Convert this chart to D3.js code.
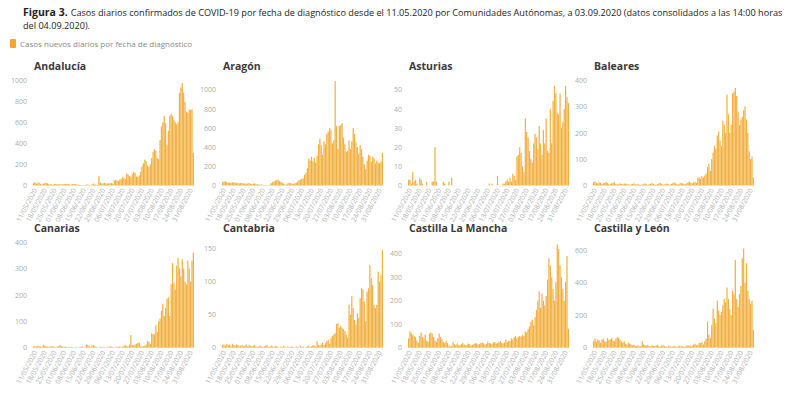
<!DOCTYPE html>
<html>
<head>
<meta charset="utf-8">
<script src="https://cdn.jsdelivr.net/npm/d3@7"></script>
<style>
body { margin: 0; background: #fff; }
svg { display: block; font-family: "Open Sans", "Noto Sans", sans-serif; }
</style>
</head>
<body>
<script>
// Casos diarios por CCAA, 11/05/2020 - 03/09/2020 (116 dias)
var regions = ['Andalucía', 'Aragón', 'Asturias', 'Baleares', 'Canarias', 'Cantabria', 'Castilla La Mancha', 'Castilla y León']

var andalucia = [25,30,20,22,28,15,10,18,22,26,20,16,12,10,9,14,16,12,11,15,9,
  12,14,15,16,13,10,9,13,15,14,11,8,5,6,4,3,5,8,10,4,2,12,20,10,8,6,92,30,18,22,
  25,20,18,22,20,24,18,48,52,46,40,55,60,82,70,62,112,105,90,80,108,128,120,85,80,95,130,180,210,245,230,
  190,175,200,260,320,345,330,260,250,430,560,600,660,590,380,520,660,680,660,620,600,580,600,880,930,970,880,790,700,690,720,
  715,725,310]
var aragon = [35,45,40,38,32,30,28,35,30,30,28,25,22,26,24,20,22,18,20,25,18,
  15,18,22,15,12,10,8,12,6,5,4,3,2,10,25,35,42,50,55,60,45,38,30,20,12,10,22,28,25,20,
  15,25,30,40,55,60,70,75,110,130,180,280,260,300,250,290,240,310,430,490,420,320,460,430,540,560,600,580,440,470,1090,
  620,380,620,630,650,500,430,350,360,470,380,460,600,540,450,400,330,420,380,300,220,170,260,320,310,250,300,280,230,260,240,
  230,250,340]
var asturias = [3,3,1,7,2,3,1,0,4,3,1,0,0,2,0,0,0,2,2,20,2,
  0,0,0,0,2,1,0,0,2,0,4,0,0,0,0,0,0,0,0,0,0,0,0,0,0,0,0,0,0,0,
  0,0,0,0,0,0,0,1,0,1,0,0,0,5,0,0,0,1,1,2,3,2,4,2,6,5,3,15,16,20,17,
  10,7,35,28,25,18,14,12,22,27,25,19,31,22,16,29,22,35,18,17,40,22,44,52,48,38,37,48,30,33,40,
  52,46,43]
var baleares = [12,15,10,8,12,10,6,8,10,14,9,7,5,8,10,12,6,5,4,8,6,
  5,7,8,6,4,3,5,6,8,5,4,6,3,2,4,6,8,5,3,5,7,9,6,4,3,5,8,10,6,4,
  4,6,8,5,3,6,9,12,8,5,4,7,10,8,6,5,9,12,15,10,8,12,14,10,28,32,25,35,30,38,45,
  70,82,55,100,125,150,140,190,205,170,150,245,230,200,345,270,200,230,350,355,370,340,280,230,250,260,285,300,250,200,130,
  100,110,30]
var canarias = [5,6,4,8,6,5,3,10,8,6,4,3,5,4,6,3,2,4,5,10,6,
  4,3,5,2,3,2,4,2,1,3,2,1,2,3,5,1,2,12,10,6,2,8,10,5,3,2,1,4,2,3,
  2,1,3,2,6,4,3,1,2,4,3,5,2,4,8,10,6,4,12,48,10,8,12,15,18,20,5,4,6,8,12,
  25,22,15,55,52,50,85,60,100,110,140,165,120,150,185,190,120,240,320,245,220,310,340,300,270,335,300,250,240,330,300,
  250,330,360]
var cantabria = [4,5,3,6,4,5,2,6,4,3,5,4,2,3,4,2,3,5,2,4,3,
  2,3,4,2,1,2,3,2,1,2,3,4,1,2,3,2,1,3,2,1,0,2,1,3,1,0,2,1,1,2,
  1,0,2,1,0,3,1,2,0,1,2,3,1,2,4,3,2,10,4,3,5,8,4,7,10,12,6,14,18,20,22,
  36,37,30,33,30,28,25,20,15,65,50,78,60,42,35,52,45,75,90,88,70,40,85,90,125,105,95,65,60,65,115,
  100,110,148]
var castillaLaMancha = [40,70,62,55,50,45,30,20,50,65,45,40,55,30,25,60,65,60,45,30,25,
  40,60,45,35,25,20,30,20,10,5,8,25,15,12,18,10,12,15,20,14,10,12,18,15,10,12,16,20,18,14,
  15,20,22,18,12,16,25,20,18,15,22,24,18,20,25,28,20,18,22,35,25,30,28,40,35,45,50,40,45,50,48,
  55,50,70,65,80,90,110,120,95,130,160,200,240,170,230,200,180,220,290,380,350,300,250,200,280,440,420,350,300,250,200,
  280,390,80]
var castillaYLeon = [40,55,35,50,45,30,50,55,40,35,60,48,50,60,45,40,55,65,60,50,40,
  30,40,25,20,30,25,20,15,18,12,10,15,8,10,40,20,15,12,18,10,8,15,12,10,14,18,10,8,12,15,
  10,8,6,12,9,5,8,10,7,6,9,12,8,10,6,8,12,15,10,14,12,20,25,15,18,30,28,35,20,40,55,
  160,80,60,140,240,180,150,290,230,200,220,260,300,280,370,300,240,200,350,330,540,300,250,330,380,550,610,400,520,350,300,
  270,290,110]

var series = [andalucia, aragon, asturias, baleares, canarias, cantabria, castillaLaMancha, castillaYLeon]
// y axis maximum and tick step of each panel
var yMax = [1000, 1100, 55, 400, 400, 160, 450, 650]
var yStep = [200, 200, 10, 100, 100, 50, 100, 200]

var tickLabels = ['11/05/2020','18/05/2020','25/05/2020','01/06/2020','08/06/2020','15/06/2020','22/06/2020','29/06/2020',
  '06/07/2020','13/07/2020','20/07/2020','27/07/2020','03/08/2020','10/08/2020','17/08/2020','24/08/2020','31/08/2020']

var days = d3.timeDay.range(new Date(2020, 4, 11), new Date(2020, 8, 4))
var fmt = d3.timeFormat('%d/%m/%Y')

var w = 800, h = 399
var barColor = '#F2B040'
var colX = [33, 222, 408, 593]
var rowTop = [80, 242]
var rowBottom = [185.5, 347.7]
var pw = 161

var svg = d3.select('body').append('svg').attr('width', w).attr('height', h)

// Titulo (font size fitted so the first line ends near x=783)
var bold = svg.append('text').attr('x', 23).attr('y', 16).attr('font-size', 10.5).attr('fill', '#222')
  .attr('font-weight', 'bold').text('Figura 3.')
var bw = bold.node().getComputedTextLength()
var t1 = svg.append('text').attr('x', 23 + bw + 3).attr('y', 16).attr('font-size', 10).attr('fill', '#222')
  .text('Casos diarios confirmados de COVID-19 por fecha de diagnóstico desde el 11.05.2020 por Comunidades Autónomas, a 03.09.2020 (datos consolidados a las 14:00 horas')
var natural = t1.node().getComputedTextLength()
t1.attr('font-size', 10 * (783 - (23 + bw + 3)) / natural)
svg.append('text').attr('x', 23).attr('y', 29).attr('font-size', t1.attr('font-size')).attr('fill', '#222')
  .text('del 04.09.2020).')

// Leyenda
svg.append('rect').attr('x', 10).attr('y', 39).attr('width', 6).attr('height', 9).attr('rx', 1).attr('fill', '#F0A830')
svg.append('text').attr('x', 20).attr('y', 47).attr('font-size', 8).attr('fill', '#888')
  .text('Casos nuevos diarios por fecha de diagnóstico')

var x = d3.scaleBand().domain(days.map(fmt)).range([0, pw]).paddingInner(0.12)

regions.forEach(function (name, i) {
  var col = i % 4, row = Math.floor(i / 4)
  var y = d3.scaleLinear().domain([0, yMax[i]]).range([rowBottom[row], rowTop[row]])
  var g = svg.append('g').attr('transform', 'translate(' + colX[col] + ',0)')

  g.append('text').attr('x', 1).attr('y', rowTop[row] - 10)
    .attr('font-size', 10.5).attr('font-weight', 'bold').attr('fill', '#3a3a3a')
    .text(name)

  var yAxis = g.append('g').attr('transform', 'translate(-4,0)')
    .call(d3.axisLeft(y).tickValues(d3.range(0, yMax[i] + 0.001, yStep[i]))
      .tickFormat(d3.format('d')).tickSize(0).tickPadding(2))
  yAxis.select('.domain').remove()
  yAxis.selectAll('text').attr('font-size', 7).attr('fill', '#aaa').attr('font-family', '"Open Sans", sans-serif')

  g.selectAll('rect.bar')
    .data(series[i])
    .enter()
    .append('rect')
    .attr('class', 'bar')
    .attr('x', function (d, j) { return x(fmt(days[j])) })
    .attr('width', x.bandwidth())
    .attr('y', function (d) { return y(d) })
    .attr('height', function (d) { return y(0) - y(d) })
    .attr('fill', barColor)

  var xAxis = g.append('g').attr('transform', 'translate(0,' + (rowBottom[row] + 1) + ')')
    .call(d3.axisBottom(x).tickValues(tickLabels).tickSize(0).tickPadding(3))
  xAxis.select('.domain').remove()
  xAxis.selectAll('text')
    .attr('font-size', 6.9).attr('fill', '#b0b0b0').attr('font-family', '"Open Sans", sans-serif')
    .attr('text-anchor', 'end')
    .attr('transform', 'rotate(-62)')
    .attr('dx', '-0.2em').attr('dy', '0.3em')
})
</script>
</body>
</html>
